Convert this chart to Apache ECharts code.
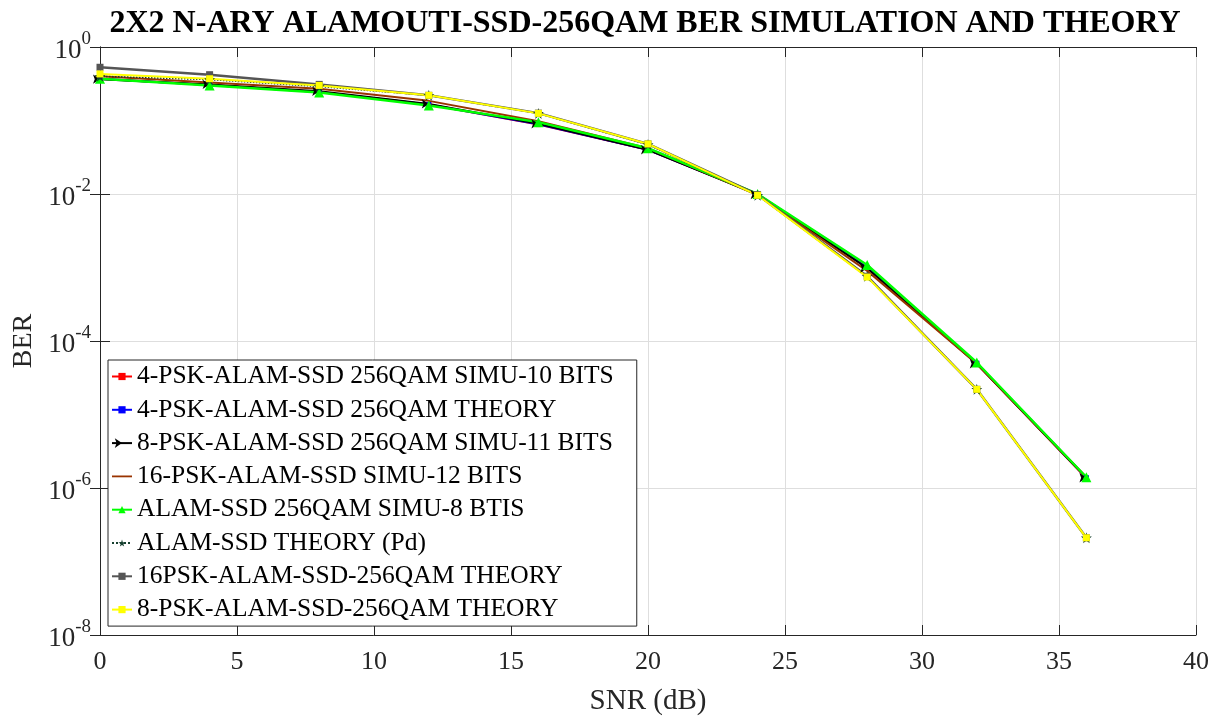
<!DOCTYPE html>
<html>
<head>
<meta charset="utf-8">
<script src="https://cdn.jsdelivr.net/npm/echarts@6/dist/echarts.min.js"></script>
<style>
html,body{margin:0;padding:0;background:#fff;}
#chart{width:1219px;height:722px;}
</style>
</head>
<body>
<div id="chart"></div>
<script>
// ---- data ----
const snr = [0, 4, 8, 12, 16, 20, 24, 28, 32, 36];
const psk4Sim   = [0.37, 0.305, 0.245, 0.165, 0.088, 0.040, 0.0100, 1.0e-3, 4.9e-5, 1.35e-6];
const psk4Th    = [0.37, 0.305, 0.245, 0.165, 0.089, 0.040, 0.0100, 1.0e-3, 5.0e-5, 1.38e-6];
const psk8Sim   = [0.365, 0.31, 0.25, 0.168, 0.090, 0.040, 0.0098, 9.8e-4, 4.9e-5, 1.38e-6];
const psk16Sim  = [0.40, 0.33, 0.27, 0.185, 0.098, 0.042, 0.0097, 9.0e-4, 4.9e-5, 1.4e-6];
const qamSim    = [0.37, 0.30, 0.24, 0.16, 0.095, 0.042, 0.0100, 1.08e-3, 5.1e-5, 1.4e-6];
const pdTheory  = [0.40, 0.36, 0.29, 0.22, 0.125, 0.047, 0.0096, 7.6e-4, 2.2e-5, 2.1e-7];
const psk16Th   = [0.53, 0.42, 0.31, 0.22, 0.126, 0.048, 0.0098, 7.6e-4, 2.2e-5, 2.1e-7];
const psk8Th    = [0.43, 0.37, 0.30, 0.22, 0.125, 0.048, 0.0096, 7.4e-4, 2.2e-5, 2.1e-7];
const seriesNames = [
  '4-PSK-ALAM-SSD 256QAM SIMU-10 BITS',
  '4-PSK-ALAM-SSD 256QAM THEORY',
  '8-PSK-ALAM-SSD 256QAM SIMU-11 BITS',
  '16-PSK-ALAM-SSD SIMU-12 BITS',
  'ALAM-SSD 256QAM SIMU-8 BTIS',
  'ALAM-SSD THEORY (Pd)',
  '16PSK-ALAM-SSD-256QAM THEORY',
  '8-PSK-ALAM-SSD-256QAM THEORY'
];
const titleText = '2X2 N-ARY ALAMOUTI-SSD-256QAM BER SIMULATION AND THEORY';
const xName = 'SNR (dB)';
const yName = 'BER';

// ---- chart ----
const FONT = '"Liberation Serif", "Times New Roman", serif';
const AX = '#262626';
const star = 'path://M50,0 L61,35 L98,35 L68,57 L79,91 L50,70 L21,91 L32,57 L2,35 L39,35 Z';
const pair = arr => snr.map((x, i) => [x, arr[i]]);

function mk(name, data, color, symbol, size, width, extra) {
  return Object.assign({
    name: name, type: 'line', data: pair(data),
    symbol: symbol, symbolSize: size, showSymbol: symbol !== 'none',
    lineStyle: {color: color, width: width},
    itemStyle: {color: color},
    emphasis: {disabled: true}
  }, extra || {});
}

const series = [
  mk(seriesNames[0], psk4Sim, '#ff0000', 'rect', 5, 2),
  mk(seriesNames[1], psk4Th, '#0000ff', 'rect', 5, 2),
  mk(seriesNames[2], psk8Sim, '#000000', 'arrow', 7, 2, {symbolRotate: -90}),
  mk(seriesNames[3], psk16Sim, '#993300', 'none', 0, 2),
  mk(seriesNames[4], qamSim, '#00ff00', 'triangle', 10, 2.5),
  mk(seriesNames[5], pdTheory, '#16402f', star, 11, 1.5, {lineStyle: {color: '#16402f', width: 1.5, type: 'dotted'}}),
  mk(seriesNames[6], psk16Th, '#555555', 'rect', 7, 2.5),
  mk(seriesNames[7], psk8Th, '#ffff00', 'rect', 7, 2)
];

const legendData = seriesNames.map((n, i) => i === 3
  ? {name: n, icon: 'path://M0,0 L100,0 L100,9 L0,9 Z'}
  : n);

const chart = echarts.init(document.getElementById('chart'), null, {renderer: 'canvas'});
chart.setOption({
  animation: false,
  backgroundColor: '#ffffff',
  title: {
    text: titleText, left: 640, top: 3, textAlign: 'center',
    textStyle: {fontFamily: FONT, fontWeight: 'bold', fontSize: 32, color: '#000'}
  },
  grid: {left: 100, right: 23, top: 47, bottom: 87, containLabel: false},
  legend: {
    orient: 'vertical', left: 108, top: 360,
    padding: [0, 23, 0, 3], itemGap: 0.3, itemWidth: 20, itemHeight: 9,
    backgroundColor: '#ffffff', borderColor: AX, borderWidth: 1,
    textStyle: {fontFamily: FONT, fontSize: 25.5, color: '#000', lineHeight: 33},
    data: legendData
  },
  xAxis: [{
    type: 'value', min: 0, max: 40, interval: 5,
    name: xName, nameLocation: 'middle', nameGap: 52,
    nameTextStyle: {fontFamily: FONT, fontSize: 29, color: AX},
    axisLine: {show: true, lineStyle: {color: AX, width: 1}},
    axisTick: {show: true, inside: true, length: 10, lineStyle: {color: AX}},
    axisLabel: {fontFamily: FONT, fontSize: 26, color: AX, margin: 14},
    splitLine: {show: true, lineStyle: {color: '#dedede', width: 1}}
  }, {
    type: 'value', min: 0, max: 40, interval: 5, position: 'top',
    axisLine: {show: true, lineStyle: {color: AX, width: 1}},
    axisTick: {show: true, inside: true, length: 10, lineStyle: {color: AX}},
    axisLabel: {show: false}, splitLine: {show: false}
  }],
  yAxis: [{
    type: 'log', logBase: 10, min: 1e-8, max: 1, interval: 2,
    name: yName, nameLocation: 'middle', nameGap: 58, nameRotate: 90,
    nameTextStyle: {fontFamily: FONT, fontSize: 28, color: AX},
    axisLine: {show: true, lineStyle: {color: AX, width: 1}},
    axisTick: {show: true, inside: true, length: 10, lineStyle: {color: AX}},
    splitLine: {show: true, lineStyle: {color: '#dedede', width: 1}},
    minorTick: {show: false},
    axisLabel: {
      margin: 9,
      formatter: function (v) {
        const e = Math.round(Math.log10(v));
        return '{b|10}{s|' + e + '}';
      },
      rich: {
        b: {fontFamily: FONT, fontSize: 27, color: AX, lineHeight: 34, verticalAlign: 'bottom'},
        s: {fontFamily: FONT, fontSize: 19, color: AX, lineHeight: 19, verticalAlign: 'top'}
      }
    }
  }, {
    type: 'log', logBase: 10, min: 1e-8, max: 1, interval: 2, position: 'right',
    axisLine: {show: true, lineStyle: {color: AX, width: 1}},
    axisTick: {show: true, inside: true, length: 10, lineStyle: {color: AX}},
    axisLabel: {show: false}, splitLine: {show: false}
  }],
  series: series
});
</script>
</body>
</html>
